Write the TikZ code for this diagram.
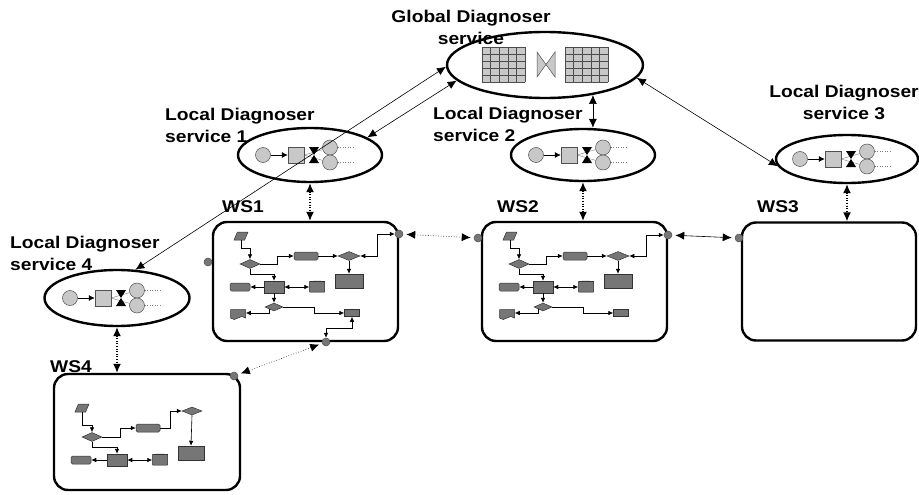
\documentclass[tikz,border=0pt]{standalone}
\usepackage{fontspec}
\newfontfamily\labelfont[FakeStretch=1.13]{Liberation Sans}
\usetikzlibrary{arrows.meta,shapes.geometric,shapes.symbols}

\definecolor{flowfill}{RGB}{118,118,118}
\definecolor{ldfill}{RGB}{200,200,200}
\definecolor{edgegray}{RGB}{80,80,80}

\begin{document}
\begin{tikzpicture}[x=1pt,y=-1pt,
  lbl/.style={font=\labelfont\bfseries\fontsize{17}{22}\selectfont,inner sep=0pt,align=left},
  diag/.style={draw,ellipse,line width=2.4pt,inner sep=0pt},
  wsbox/.style={draw,line width=2.4pt,rounded corners=14pt,inner sep=0pt},
  port/.style={circle,draw=edgegray,fill=flowfill,minimum size=8pt,inner sep=0pt,line width=0.5pt},
  ldc/.style={circle,draw=edgegray,fill=ldfill,minimum size=15pt,inner sep=0pt,line width=0.5pt},
  ldsq/.style={rectangle,draw=edgegray,fill=ldfill,minimum size=16pt,inner sep=0pt,line width=0.5pt},
  fl/.style={draw=black!80,fill=flowfill,line width=0.5pt,inner sep=0.5pt},
  fpar/.style={fl,trapezium,trapezium left angle=65,trapezium right angle=115,
    trapezium stretches=true,minimum width=14pt,minimum height=8pt},
  frr/.style={fl,rectangle,rounded corners=1.5pt,minimum width=#1,minimum height=8pt},
  fdia/.style={fl,diamond,minimum width=#1,minimum height=9pt},
  fcyl/.style={fl,cylinder,shape border rotate=90,aspect=0.5,minimum width=15pt,minimum height=11pt,
    cylinder uses custom fill,cylinder body fill=flowfill,cylinder end fill=flowfill!60},
  fdoc/.style={fl,tape,tape bend top=none,tape bend height=3pt,minimum width=15pt,minimum height=10pt},
  flow/.style={->,>={Latex[length=5pt,width=4.5pt]},line width=0.6pt},
  link/.style={<->,>={Latex[length=9pt,width=8pt]},line width=0.6pt},
  dlink/.style={link,dotted,line width=1.3pt}]

  \useasboundingbox (0,0) rectangle (919,495);

  % diagnoser services
  \node[diag,minimum width=196pt,minimum height=66pt] (gd) at (545,65) {};
  \node[diag,minimum width=144pt,minimum height=54pt] (ld1) at (310,155) {};
  \node[diag,minimum width=144pt,minimum height=52pt] (ld2) at (583,155) {};
  \node[diag,minimum width=142pt,minimum height=48pt] (ld3) at (847,159) {};
  \node[diag,minimum width=145pt,minimum height=56pt] (ld4) at (117,298) {};

  \node[lbl,align=center,anchor=north] (gdlab) at (471,10) {Global Diagnoser\\service};
  \node[lbl,anchor=north west] (ld1lab) at (165,108) {Local Diagnoser\\service 1};
  \node[lbl,anchor=north west] (ld2lab) at (433,107) {Local Diagnoser\\service 2};
  \node[lbl,align=center,anchor=north] (ld3lab) at (844,85) {Local Diagnoser\\service 3};
  \node[lbl,anchor=north west] (ld4lab) at (10,236) {Local Diagnoser\\service 4};

  % the two tables of the global diagnoser
  \foreach \gx in {482,565}{
    \fill[ldfill] (\gx,47) rectangle ++(43,35);
    \foreach \i in {0,...,5}{
      \draw[black!70,line width=0.5pt] (\gx+\i*8.6,47) -- ++(0,35);
      \draw[black!70,line width=0.5pt] (\gx,47+\i*7) -- ++(43,0);
    }
  }
  \draw[fill=ldfill,draw=edgegray,line width=0.5pt]
    (537,52) -- (546,64.5) -- (537,77) -- cycle
    (555,52) -- (546,64.5) -- (555,77) -- cycle;

  % inside of every local diagnoser
  \foreach \n in {ld1,ld2,ld3,ld4}{
    \begin{scope}[shift={(\n.center)}]
      \draw[gray,line width=0.4pt] (-6,0) -- (20,-7.5) (-6,0) -- (20,7.5);
      \node[ldc] (\n-c) at (-47,0) {};
      \node[ldsq] (\n-s) at (-14,0) {};
      \fill (-1,-8) -- (9,-8) -- (4,0) -- cycle (-1,8) -- (9,8) -- (4,0) -- cycle;
      \node[ldc] (\n-u) at (20,-7.5) {};
      \node[ldc] (\n-d) at (20,7.5) {};
      \draw[gray,dotted,line width=0.5pt] (\n-u.east) -- ++(16,0) (\n-d.east) -- ++(16,0);
      \draw[->,>={Latex[length=6pt,width=6pt]},line width=0.6pt] (\n-c) -- (\n-s);
    \end{scope}
  }

  % web services
  \node[wsbox,minimum width=185pt,minimum height=119pt] (ws1) at (305.5,281.5) {};
  \node[wsbox,minimum width=185pt,minimum height=119pt] (ws2) at (574.5,281.5) {};
  \node[wsbox,minimum width=174pt,minimum height=118pt] (ws3) at (829,281.5) {};
  \node[wsbox,minimum width=186pt,minimum height=116pt] (ws4) at (147,432) {};

  \node[lbl,anchor=base west] (ws1lab) at (222,212) {WS1};
  \node[lbl,anchor=base west] (ws2lab) at (497,212) {WS2};
  \node[lbl,anchor=base west] (ws3lab) at (757,212) {WS3};
  \node[lbl,anchor=base west] (ws4lab) at (50,372) {WS4};

  \node[port] (w1l) at (208,262) {};
  \node[port] (w1r) at (399,234) {};
  \node[port] (w1b) at (326,342) {};
  \node[port] (w2l) at (478,238) {};
  \node[port] (w2r) at (668,235) {};
  \node[port] (w3l) at (739,238) {};
  \node[port] (w4r) at (234,376) {};

  % process of WS1 and WS2
  \foreach \w/\dx in {1/0,2/269}{
    \begin{scope}[xshift=\dx]
      \node[fpar] (par\w) at (241,236) {};
      \node[fdia=20pt] (da\w) at (250,264) {};
      \node[frr=24pt] (ra\w) at (306,256) {};
      \node[fdia=22pt] (db\w) at (349,256) {};
      \node[fl,minimum width=28pt,minimum height=14pt] (big\w) at (349,281) {};
      \node[fl,minimum width=20pt,minimum height=12pt] (sq\w) at (274,287) {};
      \node[frr=20pt] (rb\w) at (240,287) {};
      \node[fcyl] (cy\w) at (317,287) {};
      \node[fdia=18pt,minimum height=8pt] (dc\w) at (274,307) {};
      \node[fdoc] (dk\w) at (238,313) {};
      \node[fl,minimum width=15pt,minimum height=7pt] (rc\w) at (352,313) {};

      \draw[flow] (par\w.south) -- ++(0,8) -| (da\w.north);
      \draw[flow] (da\w.east) -- ++(17,0) |- (ra\w.west);
      \draw[flow] (ra\w.east) -- (db\w.west);
      \draw[flow,<->] (db\w.east) -- ++(17,0) |- (w\w r);
      \draw[flow] (db\w.south) -- (big\w.north);
      \draw[flow] (da\w.south) -- ++(0,6) -| (sq\w.north);
      \draw[flow] (sq\w.west) -- (rb\w.east);
      \draw[flow,<->] (sq\w.east) -- (cy\w);
      \draw[flow] (sq\w.south) -- (dc\w.north);
      \draw[flow] (dc\w.south west) |- (dk\w.east);
      \draw[flow] (dc\w.east) -- ++(31,0) |- (rc\w.west);
    \end{scope}
  }
  \draw[flow,<->] (rc1.south) -- ++(0,12) -| (w1b);

  % process of WS4
  \node[fpar] (par4) at (82,408) {};
  \node[fdia=20pt] (da4) at (92,437) {};
  \node[frr=24pt] (ra4) at (148,428) {};
  \node[fdia=20pt,minimum height=8pt] (db4) at (192,411) {};
  \node[fl,minimum width=26pt,minimum height=14pt] (big4) at (191,453) {};
  \node[fl,minimum width=20pt,minimum height=12pt] (sq4) at (117,460) {};
  \node[frr=20pt] (rb4) at (81,460) {};
  \node[fcyl] (cy4) at (160,460) {};

  \draw[flow] (par4.south) -- ++(0,13) -| (da4.north);
  \draw[flow] (da4.east) -- ++(18,0) |- (ra4.west);
  \draw[flow] (ra4.east) -- ++(10,0) |- (db4.west);
  \draw[flow] (db4.south) -- (big4.north);
  \draw[flow] (da4.south) -- ++(0,6) -| (sq4.north);
  \draw[flow] (sq4.west) -- (rb4.east);
  \draw[flow,<->] (sq4.east) -- (cy4);

  % links between the services
  \draw[link] (ld4.57) -- (gd.181);
  \draw[link] (gd.190) -- (ld1.17);
  \draw[link] (gd.-8) -- (ld3.186);
  \draw[link] (gd.-32) -- (gd.-32 |- ld2.north);
  \draw[dlink] (ld1.south) -- (ld1.south |- ws1.north);
  \draw[dlink] (ld2.south) -- (ld2.south |- ws2.north);
  \draw[dlink] (ld3.south) -- (ld3.south |- ws3.north);
  \draw[dlink] (ld4.south) -- (ld4.south |- ws4.north);
  \draw[link,dotted,shorten <=3pt,shorten >=3pt] (w1r) -- (w2l);
  \draw[link,shorten <=3pt,shorten >=3pt] (w2r) -- (w3l);
  \draw[link,dotted,shorten <=3pt,shorten >=3pt] (w1b) -- (w4r);
\end{tikzpicture}
\end{document}
